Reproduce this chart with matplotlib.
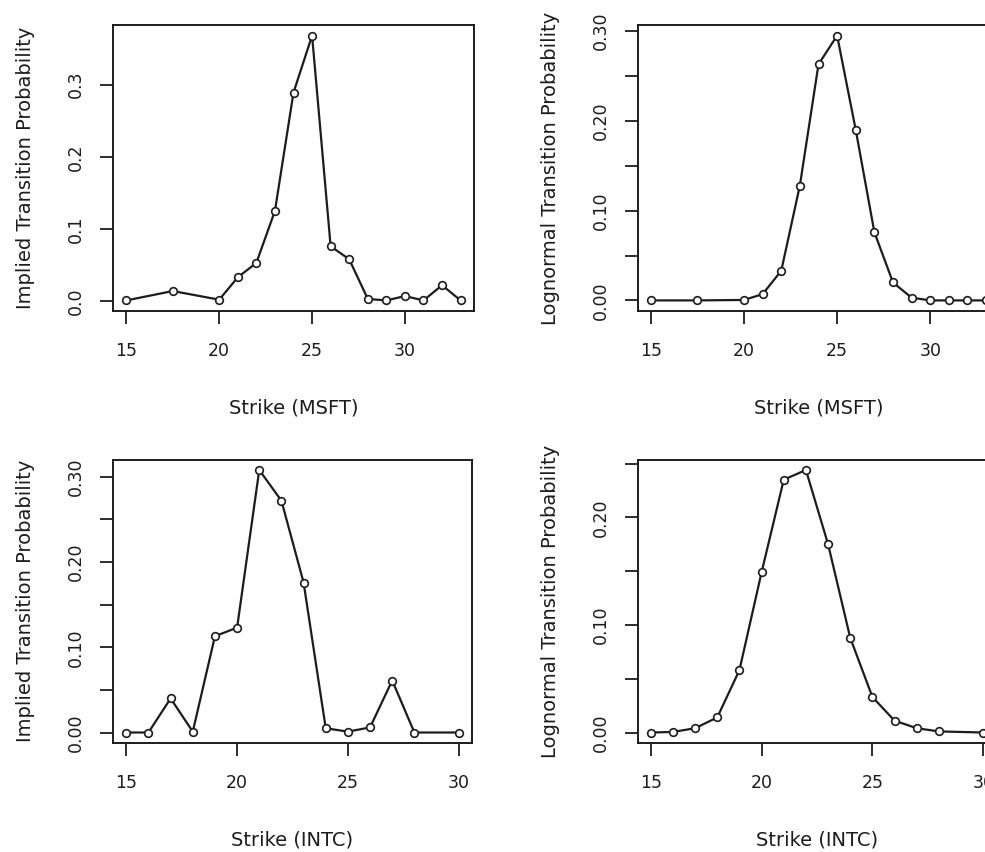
import matplotlib
matplotlib.use('Agg')
import matplotlib.pyplot as plt

# data
msft_strikes = [15, 17.5, 20, 21, 22, 23, 24, 25, 26, 27, 28, 29, 30, 31, 32, 33]
msft_implied = [0.001, 0.014, 0.002, 0.033, 0.053, 0.125, 0.289, 0.368,
                0.076, 0.058, 0.003, 0.001, 0.007, 0.001, 0.022, 0.001]
msft_lognormal = [0.0, 0.0, 0.0005, 0.007, 0.033, 0.128, 0.263, 0.295,
                  0.190, 0.076, 0.020, 0.003, 0.0, 0.0, 0.0, 0.0]

intc_strikes = [15, 16, 17, 18, 19, 20, 21, 22, 23, 24, 25, 26, 27, 28, 30]
intc_implied = [0.0, 0.0, 0.040, 0.001, 0.113, 0.123, 0.308, 0.272,
                0.176, 0.005, 0.001, 0.006, 0.061, 0.0, 0.0]
intc_lognormal = [0.0, 0.0005, 0.004, 0.014, 0.058, 0.149, 0.235, 0.244,
                  0.175, 0.088, 0.033, 0.011, 0.004, 0.001, 0.0]

x_ticks = [15, 20, 25, 30]
ink = '#1c1c1c'

fig = plt.figure(figsize=(9.85, 8.52), dpi=100)
W, H = 985, 852


def panel(left, top, width, height, xs, ys, xlabel, ylabel, yticks, ylabels):
    ax = fig.add_axes([left / W, 1 - (top + height) / H, width / W, height / H])
    ax.plot(xs, ys, color=ink, lw=1.6, marker='o', ms=5.5, mfc='white',
            mec=ink, mew=1.2)
    # R style 4% padding
    xr = max(xs) - min(xs)
    yr = max(ys) - min(ys)
    ax.set_xlim(min(xs) - 0.04 * xr, max(xs) + 0.04 * xr)
    ax.set_ylim(min(ys) - 0.04 * yr, max(ys) + 0.04 * yr)
    ax.set_xticks(x_ticks)
    ax.set_yticks(yticks)
    ax.set_yticklabels(ylabels, rotation=90, va='center')
    ax.tick_params(direction='out', length=9.5, width=1.3, colors=ink,
                   labelsize=12.5)
    ax.tick_params(axis='x', pad=13)
    ax.tick_params(axis='y', pad=10.5)
    for s in ax.spines.values():
        s.set_linewidth(1.4)
        s.set_color(ink)
    ax.set_xlabel(xlabel, fontsize=14, color=ink, va='center')
    ax.set_ylabel(ylabel, fontsize=14, color=ink, va='center')
    ax.xaxis.set_label_coords(0.5, -97 / height)
    ax.yaxis.set_label_coords(-87.5 / width, 0.5)
    return ax


y1 = [0.0, 0.1, 0.2, 0.3]
y2 = [0.0, 0.05, 0.10, 0.15, 0.20, 0.25, 0.30]
y4 = [0.0, 0.05, 0.10, 0.15, 0.20, 0.25]

panel(113, 25, 361, 286, msft_strikes, msft_implied, 'Strike (MSFT)',
      'Implied Transition Probability', y1, ['0.0', '0.1', '0.2', '0.3'])
panel(637.5, 25, 362, 286, msft_strikes, msft_lognormal, 'Strike (MSFT)',
      'Lognormal Transition Probability', y2,
      ['0.00', '', '0.10', '', '0.20', '', '0.30'])
panel(113, 459.5, 359, 283.5, intc_strikes, intc_implied, 'Strike (INTC)',
      'Implied Transition Probability', y2,
      ['0.00', '', '0.10', '', '0.20', '', '0.30'])
panel(637.5, 459.5, 359, 283.5, intc_strikes, intc_lognormal, 'Strike (INTC)',
      'Lognormal Transition Probability', y4,
      ['0.00', '', '0.10', '', '0.20', ''])

fig.savefig('out.png', dpi=100)
